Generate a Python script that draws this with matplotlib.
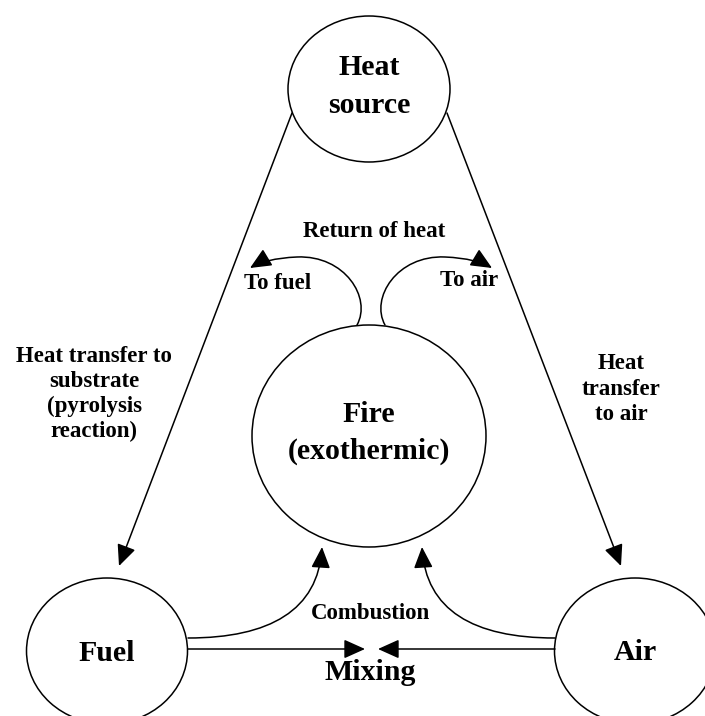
import matplotlib
matplotlib.use("Agg")
import matplotlib.pyplot as plt
from matplotlib.patches import Ellipse, FancyArrowPatch, ArrowStyle
from matplotlib.path import Path

# node texts
node_names = ["source", "fire", "fuel", "air"]
node_labels = [["Heat", "source"], ["Fire", "(exothermic)"], ["Fuel"], ["Air"]]

# edge / annotation texts
text_fuel_side = ["Heat transfer to", "substrate", "(pyrolysis", "reaction)"]
text_air_side = ["Heat", "transfer", "to air"]
text_return = "Return of heat"
text_to_fuel = "To fuel"
text_to_air = "To air"
text_combustion = "Combustion"
text_mixing = "Mixing"

# layout in pixel space (x right, y down)
nodes = {
    "source": dict(xy=(369, 89), w=162, h=146, base=[75, 113]),
    "fire": dict(xy=(369, 436), w=234, h=222, base=[422, 459]),
    "fuel": dict(xy=(107, 651), w=161, h=146, base=[661]),
    "air": dict(xy=(635, 651), w=161, h=146, base=[660]),
}

FONT = "Liberation Serif"
LW = 1.1
BIG, SMALL = 21.5, 16.5
head = ArrowStyle("-|>", head_length=1.0, head_width=0.45)


def label(ax, x, y, s, size):
    ax.text(x, y, s, ha="center", va="baseline", fontsize=size,
            fontweight="bold", family=FONT)


def arrow_line(ax, a, b):
    ax.add_patch(FancyArrowPatch(a, b, arrowstyle=head, mutation_scale=13,
                                 shrinkA=0, shrinkB=0, lw=LW, color="black"))


def arrow_path(ax, verts):
    codes = [Path.MOVETO] + [Path.CURVE4] * (len(verts) - 1)
    ax.add_patch(FancyArrowPatch(path=Path(verts, codes), arrowstyle=head,
                                 mutation_scale=13, lw=LW, color="black"))


def main():
    fig = plt.figure(figsize=(7.05, 7.16), dpi=100)
    ax = fig.add_axes([0, 0, 1, 1])
    ax.set_xlim(0, 705)
    ax.set_ylim(716, 0)
    ax.axis("off")

    for name, lines in zip(node_names, node_labels):
        n = nodes[name]
        ax.add_patch(Ellipse(n["xy"], n["w"], n["h"], fill=False, lw=LW, color="black"))
        for line, yb in zip(lines, n["base"]):
            label(ax, n["xy"][0], yb, line, BIG)

    # heat source -> fuel / air
    arrow_line(ax, (292, 113), (119, 566))
    arrow_line(ax, (447, 113), (621, 566))

    # return of heat loops
    arrow_path(ax, [(357, 325), (372, 298), (345, 255), (297, 257),
                    (275, 258), (260, 262), (250, 268)])
    arrow_path(ax, [(385, 325), (370, 298), (397, 255), (445, 257),
                    (467, 258), (482, 262), (492, 268)])

    # combustion curves to fire
    arrow_path(ax, [(188, 638), (270, 638), (318, 610), (322, 547)])
    arrow_path(ax, [(555, 638), (473, 638), (426, 610), (422, 547)])

    # mixing arrows
    arrow_line(ax, (188, 649), (365, 649))
    arrow_line(ax, (555, 649), (378, 649))

    for line, yb in zip(text_fuel_side, [362, 387, 412, 437]):
        label(ax, 94, yb, line, SMALL)
    for line, yb in zip(text_air_side, [369, 395, 420]):
        label(ax, 621, yb, line, SMALL)
    label(ax, 374, 237, text_return, SMALL)
    label(ax, 278, 289, text_to_fuel, SMALL)
    label(ax, 469, 286, text_to_air, SMALL)
    label(ax, 371, 619, text_combustion, SMALL)
    label(ax, 370, 680, text_mixing, BIG)

    fig.savefig("out.png", dpi=100)


if __name__ == "__main__":
    main()
